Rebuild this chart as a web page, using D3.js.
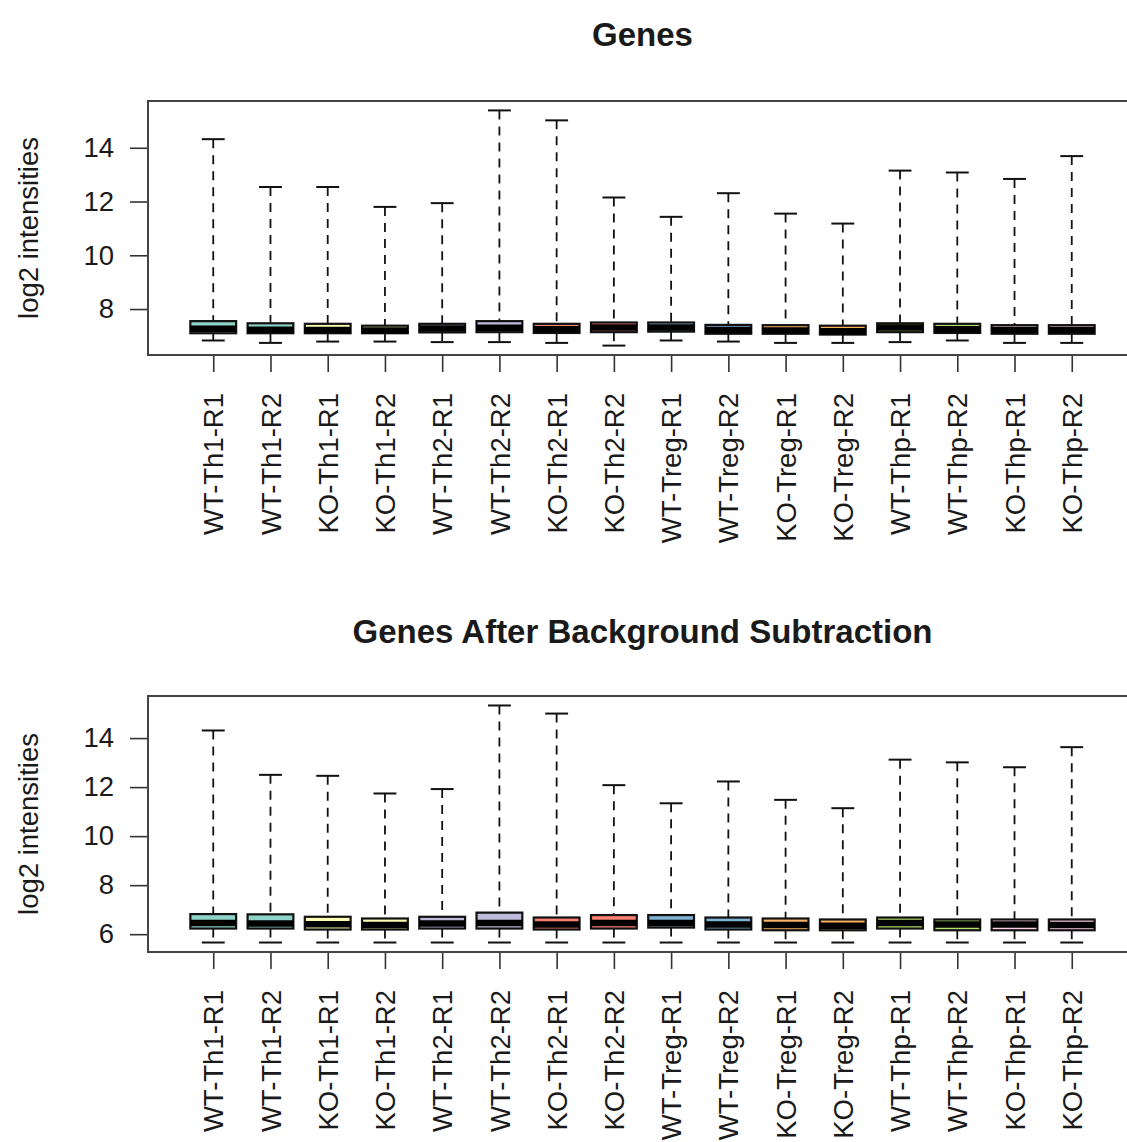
<!DOCTYPE html>
<html>
<head>
<meta charset="utf-8">
<script src="https://cdn.jsdelivr.net/npm/d3@7"></script>
<style>
body { margin: 0; background: #fff; }
svg text { font-family: "Liberation Sans", Arial, Helvetica, sans-serif; fill: #1a1a1a; }
</style>
</head>
<body>
<div id="chart"></div>
<script>
// Data
const samples = ["WT-Th1-R1", "WT-Th1-R2", "KO-Th1-R1", "KO-Th1-R2", "WT-Th2-R1", "WT-Th2-R2",
  "KO-Th2-R1", "KO-Th2-R2", "WT-Treg-R1", "WT-Treg-R2", "KO-Treg-R1", "KO-Treg-R2",
  "WT-Thp-R1", "WT-Thp-R2", "KO-Thp-R1", "KO-Thp-R2"];

const boxColors = ["#8DD3C7", "#8DD3C7", "#FFFFB3", "#FFFFB3", "#BEBADA", "#BEBADA",
  "#FB8072", "#FB8072", "#80B1D3", "#80B1D3", "#FDB462", "#FDB462",
  "#B3DE69", "#B3DE69", "#FCCDE5", "#FCCDE5"];

// raw gene intensities
const rawMax = [14.32, 12.54, 12.54, 11.80, 11.94, 15.39, 15.02, 12.15, 11.43, 12.31, 11.55, 11.18, 13.15, 13.08, 12.84, 13.69];
const rawQ3  = [7.55, 7.47, 7.45, 7.38, 7.45, 7.55, 7.45, 7.50, 7.50, 7.41, 7.40, 7.38, 7.47, 7.45, 7.40, 7.40];
const rawMed = [7.27, 7.23, 7.22, 7.20, 7.28, 7.30, 7.25, 7.31, 7.31, 7.22, 7.20, 7.17, 7.31, 7.25, 7.22, 7.22];
const rawQ1  = [7.10, 7.10, 7.10, 7.10, 7.13, 7.14, 7.11, 7.14, 7.16, 7.08, 7.08, 7.05, 7.14, 7.11, 7.08, 7.08];
const rawMin = [6.83, 6.74, 6.79, 6.79, 6.77, 6.77, 6.74, 6.64, 6.83, 6.79, 6.74, 6.74, 6.77, 6.83, 6.74, 6.74];

// after background subtraction
const bgMax = [14.31, 12.50, 12.46, 11.74, 11.92, 15.33, 15.00, 12.08, 11.34, 12.23, 11.48, 11.14, 13.12, 13.01, 12.81, 13.63];
const bgQ3  = [6.82, 6.81, 6.71, 6.64, 6.71, 6.88, 6.68, 6.78, 6.78, 6.68, 6.64, 6.60, 6.68, 6.60, 6.60, 6.60];
const bgMed = [6.46, 6.44, 6.41, 6.37, 6.44, 6.46, 6.40, 6.46, 6.46, 6.40, 6.37, 6.34, 6.46, 6.40, 6.40, 6.37];
const bgQ1  = [6.23, 6.23, 6.19, 6.19, 6.23, 6.23, 6.19, 6.23, 6.27, 6.19, 6.16, 6.16, 6.23, 6.16, 6.16, 6.16];
const bgMin = [5.66, 5.66, 5.66, 5.66, 5.66, 5.66, 5.66, 5.66, 5.66, 5.66, 5.66, 5.66, 5.66, 5.66, 5.66, 5.66];

const rawTicks = [8, 10, 12, 14];
const bgTicks = [6, 8, 10, 12, 14];

// Dimensions
const width = 1127, height = 1142;
const plotLeft = 148, plotRight = 1137;
const axisFont = 27.5, titleFont = 33;

const svg = d3.select("#chart")
  .append("svg")
  .attr("width", width)
  .attr("height", height);

// x scale shared by both panels (R style: 0.5..n+0.5 plus 4%)
const n = samples.length;
const pad = (n) * 0.04;
const x = d3.scaleLinear()
  .domain([0.5 - pad, n + 0.5 + pad])
  .range([plotLeft, plotRight]);
const unit = x(2) - x(1);

function drawPanel(opts) {
  const stats = samples.map((s, i) => ({
    name: s, idx: i + 1, color: boxColors[i],
    max: opts.max[i], q3: opts.q3[i], med: opts.med[i], q1: opts.q1[i], min: opts.min[i]
  }));

  const lo = d3.min(stats, d => d.min), hi = d3.max(stats, d => d.max);
  const ext = (hi - lo) * 0.04;
  const y = d3.scaleLinear()
    .domain([lo - ext, hi + ext])
    .range([opts.bottom, opts.top]);

  const g = svg.append("g");

  // Title
  g.append("text")
    .attr("x", (plotLeft + plotRight) / 2)
    .attr("y", opts.titleY)
    .attr("text-anchor", "middle")
    .style("font-size", titleFont + "px")
    .style("font-weight", "bold")
    .text(opts.title);

  // y axis
  const yAxis = g.append("g")
    .attr("transform", `translate(${plotLeft - 1},0)`)
    .call(d3.axisLeft(y).tickValues(opts.ticks).tickSize(17).tickPadding(16).tickSizeOuter(0));
  yAxis.select(".domain").remove();
  yAxis.selectAll("line").attr("stroke", "#333").attr("stroke-width", 1.6);
  yAxis.selectAll("text")
    .style("font-size", axisFont + "px")
    .style("font-family", "'Liberation Sans', Arial, sans-serif")
    .attr("fill", "#1a1a1a");

  // x axis with rotated labels
  const xAxis = g.append("g")
    .attr("transform", `translate(0,${opts.bottom})`)
    .call(d3.axisBottom(x).tickValues(d3.range(1, n + 1))
      .tickFormat(i => samples[i - 1]).tickSize(17).tickSizeOuter(0));
  xAxis.select(".domain").remove();
  xAxis.selectAll("line").attr("stroke", "#333").attr("stroke-width", 1.6);
  xAxis.selectAll("text")
    .attr("transform", "rotate(-90)")
    .attr("x", -38)
    .attr("y", 0)
    .attr("dy", "0.35em")
    .style("text-anchor", "end")
    .style("font-size", axisFont + "px")
    .style("font-family", "'Liberation Sans', Arial, sans-serif")
    .attr("fill", "#1a1a1a");

  // y axis title
  g.append("text")
    .attr("transform", `translate(38,${(opts.top + opts.bottom) / 2}) rotate(-90)`)
    .attr("text-anchor", "middle")
    .style("font-size", axisFont + "px")
    .text("log2 intensities");

  // whiskers
  const box = g.selectAll(".box")
    .data(stats)
    .enter()
    .append("g")
    .attr("class", "box");

  box.append("line")
    .attr("x1", d => x(d.idx)).attr("x2", d => x(d.idx))
    .attr("y1", d => y(d.max)).attr("y2", d => y(d.q3))
    .attr("stroke", "#111").attr("stroke-width", 1.8)
    .attr("stroke-dasharray", "9,7");

  box.append("line")
    .attr("x1", d => x(d.idx)).attr("x2", d => x(d.idx))
    .attr("y1", d => y(d.q1)).attr("y2", d => y(d.min))
    .attr("stroke", "#111").attr("stroke-width", 1.8)
    .attr("stroke-dasharray", "9,7");

  // staples
  box.append("line")
    .attr("x1", d => x(d.idx) - unit * 0.2).attr("x2", d => x(d.idx) + unit * 0.2)
    .attr("y1", d => y(d.max)).attr("y2", d => y(d.max))
    .attr("stroke", "#111").attr("stroke-width", 2);

  box.append("line")
    .attr("x1", d => x(d.idx) - unit * 0.2).attr("x2", d => x(d.idx) + unit * 0.2)
    .attr("y1", d => y(d.min)).attr("y2", d => y(d.min))
    .attr("stroke", "#111").attr("stroke-width", 2);

  // boxes
  box.append("rect")
    .attr("x", d => x(d.idx) - unit * 0.4)
    .attr("width", unit * 0.8)
    .attr("y", d => y(d.q3))
    .attr("height", d => y(d.q1) - y(d.q3))
    .attr("fill", d => d.color)
    .attr("stroke", "#111")
    .attr("stroke-width", 2.2);

  // median
  box.append("line")
    .attr("x1", d => x(d.idx) - unit * 0.4).attr("x2", d => x(d.idx) + unit * 0.4)
    .attr("y1", d => y(d.med)).attr("y2", d => y(d.med))
    .attr("stroke", "#000").attr("stroke-width", 6.5);

  // frame
  g.append("rect")
    .attr("x", plotLeft)
    .attr("y", opts.top)
    .attr("width", plotRight - plotLeft)
    .attr("height", opts.bottom - opts.top)
    .attr("fill", "none")
    .attr("stroke", "#444")
    .attr("stroke-width", 2);
}

drawPanel({
  title: "Genes", titleY: 46, top: 101, bottom: 355, ticks: rawTicks,
  max: rawMax, q3: rawQ3, med: rawMed, q1: rawQ1, min: rawMin
});

drawPanel({
  title: "Genes After Background Subtraction", titleY: 643, top: 696, bottom: 952, ticks: bgTicks,
  max: bgMax, q3: bgQ3, med: bgMed, q1: bgQ1, min: bgMin
});
</script>
</body>
</html>
